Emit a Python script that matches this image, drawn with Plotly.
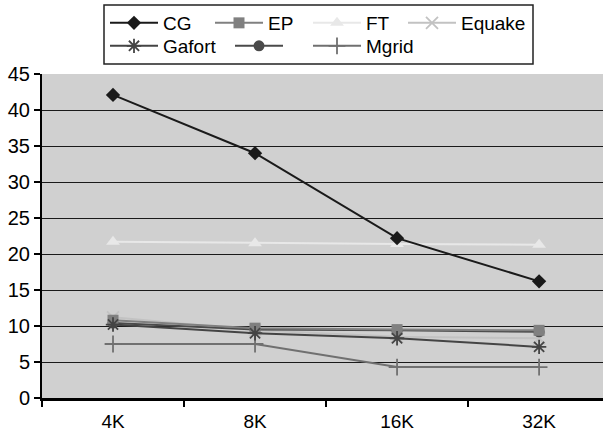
import plotly.graph_objects as go

categories = ["4K", "8K", "16K", "32K"]
cg = [42.1, 34.0, 22.2, 16.2]
ep = [10.8, 9.7, 9.5, 9.4]
ft = [21.7, 21.5, 21.4, 21.3]
equake = [11.2, 9.4, 8.5, 8.3]
gafort = [10.2, 9.0, 8.3, 7.1]
unnamed = [10.4, 9.5, 9.4, 9.2]
mgrid = [7.5, 7.5, 4.3, 4.3]

W, H = 603, 431
L, R, T, B = 42, 0, 74, 33
PW, PH = W - L - R, H - T - B
FONT = "Liberation Sans"

def px_x(px):
    return (px - L) / PW

def px_y(py):
    return (H - B - py) / PH

series = [
    ("CG", cg, "#1a1a1a", "diamond", 11, 2, "legend", 105, 23),
    ("EP", ep, "#808080", "square", 11, 2, "legend2", 210, 23),
    ("FT", ft, "#e8e8e8", "triangle-up", 12, 2, "legend3", 308, 23),
    ("Equake", equake, "#c2c2c2", "x-thin", 12, 2, "legend4", 403, 23),
    ("Gafort", gafort, "#444444", "asterisk", 12, 2, "legend5", 105, 46),
    (" ", unnamed, "#4a4a4a", "circle", 11, 2, "legend6", 230, 46),
    ("Mgrid", mgrid, "#707070", "cross-thin", 12, 2, "legend7", 308, 46),
]

fig = go.Figure()
# draw order: light lines first so darker ones stay on top
order = [2, 3, 6, 5, 1, 4, 0]
for i in order:
    name, vals, col, sym, size, lw, leg, lx, ly = series[i]
    thin = sym in ("x-thin", "cross-thin", "asterisk")
    fig.add_trace(go.Scatter(
        x=categories, y=vals, name=name, mode="lines+markers",
        line=dict(color=col, width=lw),
        marker=dict(symbol=sym, size=size, color=col,
                    line=dict(color=col, width=1.8 if thin else 0)),
        legend=leg, showlegend=True,
    ))

layout_legends = {}
for name, vals, col, sym, size, lw, leg, lx, ly in series:
    layout_legends[leg] = dict(
        x=px_x(lx), y=px_y(ly), xanchor="left", yanchor="middle",
        xref="paper", yref="paper", orientation="v",
        bgcolor="rgba(0,0,0,0)", borderwidth=0, itemwidth=48,
        font=dict(family=FONT, size=19, color="#000000"),
    )

fig.update_layout(
    width=W, height=H,
    margin=dict(l=L, r=R, t=T, b=B, pad=0),
    paper_bgcolor="#ffffff",
    plot_bgcolor="#d0d0d0",
    showlegend=True,
    **layout_legends,
    xaxis=dict(
        type="category", range=[-0.5, 3.45], tickson="boundaries",
        ticks="outside", ticklen=6, tickwidth=1.5, tickcolor="#000000",
        showgrid=False, showline=True, linecolor="#000000", linewidth=2.5,
        tickfont=dict(family=FONT, size=19, color="#000000"),
        ticklabelstandoff=4,
        zeroline=False, fixedrange=True,
    ),
    yaxis=dict(
        range=[0, 45], dtick=5, tick0=0,
        ticks="outside", ticklen=6, tickwidth=1.5, tickcolor="#000000",
        showgrid=True, gridcolor="#1a1a1a", gridwidth=1,
        showline=True, linecolor="#000000", linewidth=2,
        tickfont=dict(family=FONT, size=20, color="#000000"),
        zeroline=False, fixedrange=True,
    ),
    shapes=[dict(
        type="rect", xref="paper", yref="paper",
        x0=px_x(104), x1=px_x(533), y0=px_y(64), y1=px_y(5),
        line=dict(color="#222222", width=1.5), fillcolor="rgba(0,0,0,0)",
        layer="above",
    )],
)

fig.write_html("out.html")
